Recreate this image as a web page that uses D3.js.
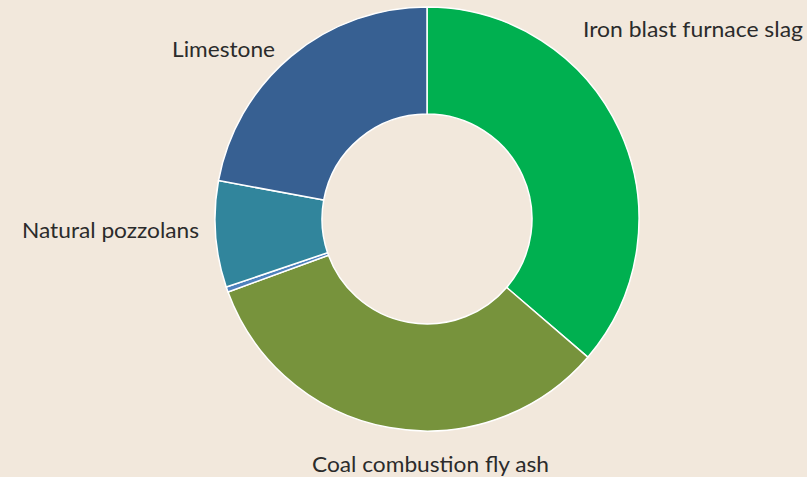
<!DOCTYPE html>
<html>
<head>
<meta charset="utf-8">
<script src="https://cdn.jsdelivr.net/npm/d3@7"></script>
<style>
  html, body { margin: 0; padding: 0; background: #F2E8DC; }
  svg { display: block; }
</style>
</head>
<body>
<svg id="chart" width="807" height="477"></svg>
<script>
// Supplementary cementitious materials, share of total (%)
const categories = ["Iron blast furnace slag", "Coal combustion fly ash", "Other", "Natural pozzolans", "Limestone"];
const shares = [36.3, 33.1, 0.4, 8.1, 22.1];
const colors = ["#00B050", "#77933C", "#4F81BD", "#31859C", "#376092"];
const showLabel = [true, true, false, true, true];

// Label placement (layout only)
const labelLayout = [
  { x: 583, y: 37, anchor: "start", width: 220 },
  { x: 312, y: 472, anchor: "start", width: 237 },
  null,
  { x: 22, y: 238, anchor: "start", width: 177 },
  { x: 172, y: 57, anchor: "start", width: 103 }
];

const W = 807, H = 477;
const cx = 427, cy = 219, rOuter = 212, rInner = 105;

const data = categories.map((c, i) => ({ name: c, value: shares[i], color: colors[i], i }));

const svg = d3.select("#chart");
svg.append("rect").attr("width", W).attr("height", H).attr("fill", "#F2E8DC");

const pie = d3.pie().value(d => d.value).sort(null);
const arc = d3.arc().innerRadius(rInner).outerRadius(rOuter);

const g = svg.append("g").attr("transform", `translate(${cx},${cy})`);
g.selectAll("path.slice")
  .data(pie(data))
  .join("path")
  .attr("class", "slice")
  .attr("d", arc)
  .attr("fill", d => d.data.color)
  .attr("stroke", "#ffffff")
  .attr("stroke-width", 1.5)
  .attr("stroke-linejoin", "round");

svg.selectAll("text.label")
  .data(data.filter(d => showLabel[d.i]))
  .join("text")
  .attr("class", "label")
  .attr("x", d => labelLayout[d.i].x)
  .attr("y", d => labelLayout[d.i].y)
  .attr("text-anchor", d => labelLayout[d.i].anchor)
  .attr("textLength", d => labelLayout[d.i].width)
  .attr("lengthAdjust", "spacingAndGlyphs")
  .attr("font-family", "Lato, 'Open Sans', sans-serif")
  .attr("font-size", 21)
  .attr("fill", "#2b2b2b")
  .text(d => d.name);
</script>
</body>
</html>
